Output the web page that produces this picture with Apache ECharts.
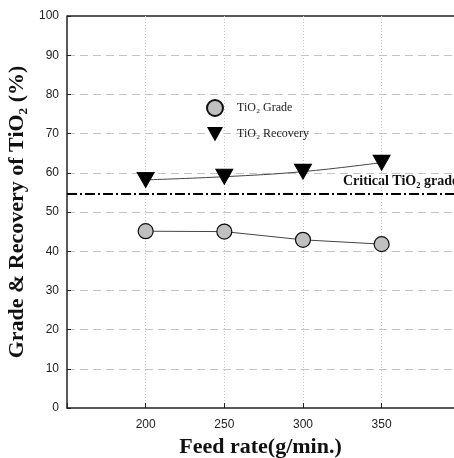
<!DOCTYPE html>
<html><head><meta charset="utf-8">
<script src="https://cdn.jsdelivr.net/npm/echarts@6/dist/echarts.min.js"></script>
<style>html,body{margin:0;padding:0;background:#fff}#c{width:454px;height:458px}</style>
</head><body><div id="c"></div>
<script>
const feedRate = [200, 250, 300, 350];
const gradeValues = [45.1, 45.0, 42.9, 41.8];
const recoveryValues = [58.2, 59.0, 60.3, 62.6];
const criticalGrade = 54.6;
const xTicks = [200, 250, 300, 350];
const seriesNames = ['TiO\u2082 Grade', 'TiO\u2082 Recovery'];
const criticalLabel = 'Critical TiO\u2082 grade';
const triPath = 'path://M0,0 L10,0 L5,9 Z';

const chart = echarts.init(document.getElementById('c'));
chart.setOption({
  animation: false,
  grid: {left: 67, top: 16, bottom: 50, right: 0, outerBoundsMode: 'none', containLabel: false},
  legend: {
    orient: 'vertical', left: 201, top: 94, itemGap: 10, itemWidth: 16, itemHeight: 16,
    textStyle: {fontFamily: 'Liberation Serif', fontSize: 12, color: '#222', padding: [0, 0, 0, 9]},
    data: [{name: seriesNames[0], icon: 'circle'}, {name: seriesNames[1], icon: triPath}]
  },
  xAxis: {
    type: 'value', min: 150, max: 396, interval: 50,
    name: 'Feed rate(g/min.)', nameLocation: 'middle', nameGap: 20,
    nameTextStyle: {fontFamily: 'Liberation Serif', fontWeight: 'bold', fontSize: 22, color: '#111'},
    axisLine: {lineStyle: {color: '#222', width: 1.5}},
    axisTick: {inside: true, length: 5, lineStyle: {color: '#222'}},
    axisLabel: {fontFamily: 'Liberation Sans', fontSize: 12, color: '#222', margin: 11, showMaxLabel: false,
      formatter: v => xTicks.indexOf(v) >= 0 ? String(v) : ''},
    splitLine: {show: true, showMinLine: false, showMaxLine: false, lineStyle: {color: '#c8c8c8', type: [1, 2], width: 1}}
  },
  yAxis: {
    type: 'value', min: 0, max: 100, interval: 10,
    name: 'Grade & Recovery of TiO\u2082 (%)', nameLocation: 'middle', nameGap: 29,
    nameTextStyle: {fontFamily: 'Liberation Serif', fontWeight: 'bold', fontSize: 22, color: '#111'},
    axisLine: {show: true, lineStyle: {color: '#222', width: 1.5}},
    axisTick: {show: true, inside: true, length: 4, lineStyle: {color: '#222'}},
    axisLabel: {fontFamily: 'Liberation Sans', fontSize: 12, color: '#222', margin: 8},
    splitLine: {show: true, showMinLine: false, showMaxLine: false, lineStyle: {color: '#c4c4c4', type: [8, 5], width: 1}}
  },
  graphic: [
    {type: 'line', shape: {x1: 67, y1: 16, x2: 454, y2: 16}, style: {stroke: '#222', lineWidth: 1.5}},
    {type: 'text', left: 343, top: 174, style: {text: criticalLabel, fontFamily: 'Liberation Serif', fontWeight: 'bold', fontSize: 14, fill: '#111'}}
  ],
  series: [
    {
      name: seriesNames[0], type: 'line', smooth: false,
      data: feedRate.map((x, i) => [x, gradeValues[i]]),
      symbol: 'circle', symbolSize: 15,
      itemStyle: {color: '#c0c0c0', borderColor: '#111', borderWidth: 1.2},
      lineStyle: {color: '#444', width: 1}, z: 3,
      markLine: {
        silent: true, symbol: 'none',
        data: [{yAxis: criticalGrade}],
        lineStyle: {color: '#000', width: 2, type: [10, 3, 2, 3]},
        label: {show: false}
      }
    },
    {
      name: seriesNames[1], type: 'line', smooth: 0.4,
      data: feedRate.map((x, i) => [x, recoveryValues[i]]),
      symbol: triPath, symbolSize: [17, 15],
      itemStyle: {color: '#000', borderColor: '#000'},
      lineStyle: {color: '#444', width: 1}, z: 3
    }
  ]
});
</script></body></html>
